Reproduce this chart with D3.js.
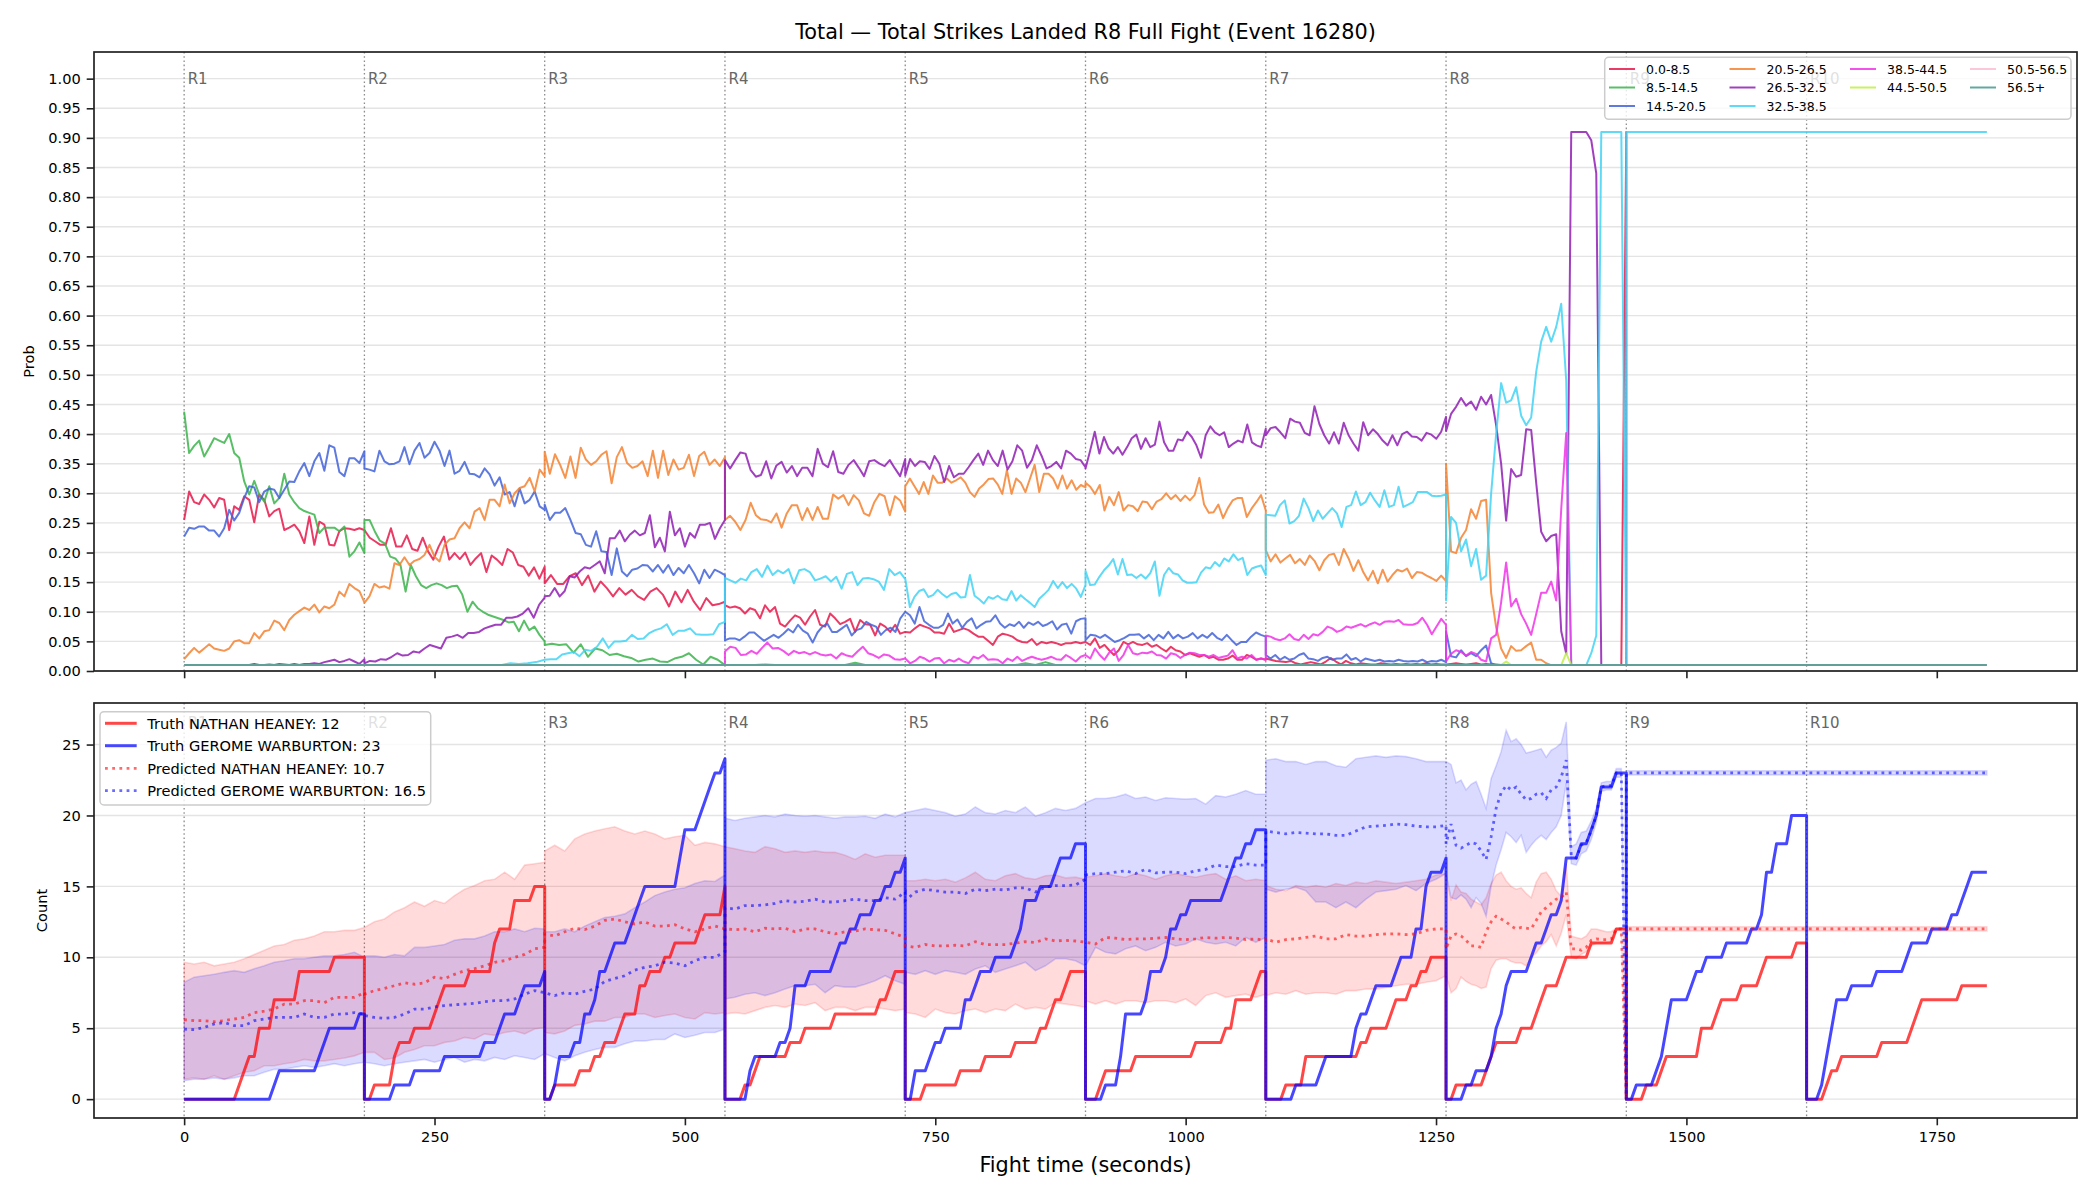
<!DOCTYPE html>
<html><head><meta charset="utf-8">
<script src="https://cdn.jsdelivr.net/npm/d3@7"></script>
<style>body{margin:0;background:#fff}svg text{font-family:"DejaVu Sans",sans-serif}</style>
</head><body><svg id="chart" width="2100" height="1200"></svg>
<script>
// ---------------- DATA ----------------
const roundStarts = [0,180,360,540,720,900,1080,1260,1440,1620];
const roundLabels = ["R1","R2","R3","R4","R5","R6","R7","R8","R9","R10"];
const xTicks = [0,250,500,750,1000,1250,1500,1750];
const probTicks = [0,0.05,0.1,0.15,0.2,0.25,0.3,0.35,0.4,0.45,0.5,0.55,0.6,0.65,0.7,0.75,0.8,0.85,0.9,0.95,1.0];
const countTicks = [0,5,10,15,20,25];
const binLabels = ["0.0-8.5","8.5-14.5","14.5-20.5","20.5-26.5","26.5-32.5","32.5-38.5","38.5-44.5","44.5-50.5","50.5-56.5","56.5+"];
const binColors = ["#e6194b","#3cb44b","#4363d8","#f58231","#911eb4","#42d4f4","#f032e6","#bfef45","#fabed4","#469990"];

// probability per bin; one array per round, values evenly spaced over the round
const prob_0_8 = [
[.255,.303,.285,.282,.298,.289,.276,.292,.289,.238,.278,.272,.295,.289,.251,.298,.289,.261,.27,.274,.238,.242,.247,.236,.216,.261,.213,.252,.247,.213,.212,.236,.241,.24,.238,.241,.238],
[.238,.225,.219,.213,.213,.241,.21,.21,.229,.206,.203,.225,.202,.188,.21,.227,.188,.199,.189,.2,.179,.19,.199,.167,.195,.188,.179,.206,.2,.179,.176,.161,.175,.156,.176],
[.148,.162,.147,.147,.16,.165,.145,.161,.134,.151,.14,.126,.14,.129,.137,.126,.12,.134,.14,.129,.109,.134,.116,.137,.117,.103,.123,.111,.113,.117],
[.111,.107,.109,.106,.097,.106,.103,.089,.111,.10,.108,.08,.075,.085,.094,.09,.078,.092,.103,.078,.075,.097,.089,.079,.083,.088,.066,.086,.079,.078,.06,.08,.075,.066,.078,.063,.066],
[.066,.065,.072,.078,.075,.072,.065,.065,.063,.08,.066,.069,.072,.069,.063,.058,.058,.051,.044,.058,.063,.061,.058,.052,.049,.048,.054,.044,.049,.047,.049,.047,.044,.047,.047,.049,.047,.049],
[.049,.044,.055,.039,.044,.035,.027,.035,.049,.045,.049,.045,.044,.047,.041,.044,.038,.033,.041,.035,.033,.027,.03,.027,.024,.027,.022,.024,.019,.019,.021,.026,.019,.019,.027,.024,.019,.021,.019],
[.021,.019,.017,.016,.015,.017,.013,.011,.013,.015,.013,.011,.016,.022,.016,.011,.017,.013,.011,.013,.012,.011,.011,.013,.012,.011,.012,.011,.012,.011,.012,.011,.013,.011,.012,.011,.011],
[.011,.012,.013,.012,.011,.012,.013,.011,.012,.011,.011,.01,.01,.01,.01,.01,.01,.01,.01,.01,.01,.01,.01,.01,.01,.01,.01,.01,.01,.01,.01,.01,.01,.01,.01,.01,.91],
[.01,.01],[.01,.01]];
const prob_8_14 = [
[.438,.368,.38,.389,.362,.377,.393,.389,.385,.40,.368,.36,.32,.298,.321,.298,.286,.312,.283,.292,.333,.298,.285,.275,.27,.267,.264,.233,.242,.242,.242,.236,.244,.193,.202,.217,.199],
[.255,.255,.236,.22,.215,.193,.19,.179,.134,.179,.16,.145,.14,.145,.148,.145,.14,.143,.144,.129,.10,.117,.106,.1,.095,.092,.089,.086,.082,.083,.067,.085,.069,.075,.061,.05],
[.044,.046,.044,.045,.031,.045,.024,.038,.035,.027,.029,.025,.022,.016,.019,.021,.016,.015,.021,.024,.03,.019,.011,.024,.019,.01],
[.01,.01,.01,.01,.011,.01,.01,.01,.01,.01,.01,.01,.01,.014,.01,.01,.01,.01,.01],
[.01,.01,.01,.01,.01,.01,.01,.01,.01,.011,.01,.01,.013,.01,.015,.01,.01,.01,.01],
[.01,.01],[.01,.01],[.01,.01],[.01,.01],[.01,.01]];
const prob_14_20 = [
[.227,.242,.24,.244,.244,.237,.237,.227,.241,.272,.254,.267,.292,.312,.31,.285,.303,.308,.306,.292,.306,.32,.319,.337,.351,.329,.354,.368,.338,.381,.377,.336,.329,.359,.359,.351,.371],
[.342,.34,.337,.372,.354,.349,.35,.354,.378,.349,.372,.385,.36,.368,.387,.372,.346,.372,.333,.338,.353,.333,.332,.327,.342,.332,.313,.327,.298,.302,.278,.308,.283,.289,.303,.278,.272],
[.281,.255,.267,.267,.275,.255,.233,.231,.213,.21,.236,.202,.201,.162,.207,.168,.16,.171,.173,.179,.178,.168,.179,.166,.179,.162,.174,.165,.179,.165,.148,.171,.157,.171,.167,.162],
[.052,.055,.055,.052,.058,.065,.065,.058,.051,.056,.061,.056,.063,.071,.065,.078,.068,.063,.048,.065,.075,.08,.066,.066,.072,.078,.06,.069,.072,.083,.078,.075,.061,.069,.073,.066,.089,.10],
[.10,.094,.08,.108,.084,.078,.073,.073,.078,.097,.08,.087,.073,.083,.089,.072,.078,.083,.084,.094,.08,.073,.079,.076,.083,.073,.082,.078,.083,.076,.079,.084,.07,.078,.08,.063,.084,.088,.089],
[.052,.061,.06,.056,.061,.055,.049,.052,.056,.061,.061,.062,.055,.061,.052,.061,.055,.066,.055,.061,.055,.058,.064,.055,.061,.056,.064,.056,.052,.061,.052,.044,.049,.049,.058,.065,.061,.058],
[.027,.021,.027,.019,.024,.019,.021,.027,.03,.021,.02,.017,.022,.024,.019,.021,.021,.028,.019,.022,.016,.021,.019,.017,.019,.016,.017,.016,.019,.017,.016,.017,.016,.019,.015,.017,.016,.019,.015],
[.067,.025,.023,.035,.025,.03,.025,.035,.043,.013,.01,.01,.01,.01,.01,.01,.01,.01,.01,.01,.01,.01,.01,.01,.01,.01,.01,.01,.01,.01,.01,.01,.01,.01,.01,.01,.01],
[.01,.01],[.01,.01]];
const prob_20_26 = [
[.02,.03,.039,.031,.038,.045,.038,.036,.034,.038,.05,.052,.047,.047,.064,.055,.067,.069,.085,.081,.069,.086,.095,.101,.107,.103,.112,.099,.109,.106,.112,.134,.126,.147,.14,.135,.116],
[.115,.126,.147,.141,.143,.139,.182,.179,.192,.179,.186,.189,.196,.213,.193,.185,.213,.222,.224,.241,.251,.241,.269,.275,.255,.289,.289,.278,.315,.283,.30,.309,.312,.326,.303,.34,.329],
[.37,.333,.366,.348,.326,.362,.326,.377,.357,.348,.354,.365,.371,.317,.361,.378,.351,.343,.346,.354,.329,.372,.326,.372,.331,.357,.34,.343,.365,.329,.363,.37,.348,.357,.346,.361],
[.255,.262,.252,.238,.255,.284,.263,.256,.255,.251,.266,.242,.266,.28,.28,.255,.275,.255,.277,.257,.257,.298,.291,.297,.28,.297,.288,.266,.262,.285,.299,.295,.263,.295,.288,.269],
[.312,.325,.312,.299,.319,.299,.33,.318,.318,.325,.318,.322,.327,.318,.302,.294,.308,.315,.324,.325,.315,.299,.339,.299,.325,.318,.302,.325,.348,.302,.333,.333,.325,.308,.33,.308,.322,.306,.314,.31],
[.318,.311,.299,.314,.271,.294,.28,.302,.271,.28,.278,.27,.286,.285,.273,.286,.29,.3,.29,.297,.287,.296,.288,.297,.326,.281,.267,.268,.281,.258,.275,.288,.292,.292,.26,.274,.285,.297,.271],
[.204,.185,.197,.183,.19,.196,.182,.189,.179,.195,.186,.17,.187,.196,.198,.179,.206,.19,.169,.187,.167,.153,.169,.148,.171,.151,.162,.171,.168,.173,.157,.167,.166,.161,.157,.152,.161,.152],
[.35,.202,.199,.225,.238,.273,.257,.287,.289,.132,.074,.038,.022,.042,.034,.035,.042,.048,.019,.019,.013,.01,.01,.01,.01,.01,.01,.01,.01,.01,.01,.01,.01,.01,.01,.01,.01],
[.01,.01],[.01,.01]];
const prob_26_32 = [
[.01,.01,.01,.01,.01,.01,.01,.01,.01,.01,.01,.01,.01,.01,.012,.01,.01,.011,.01,.012,.011,.01,.012,.01,.012,.012,.013,.012,.015,.017,.019,.015,.017,.02,.016,.012,.02],
[.013,.017,.016,.02,.019,.024,.03,.026,.027,.033,.031,.038,.044,.041,.038,.056,.058,.061,.056,.064,.064,.066,.072,.075,.078,.078,.09,.09,.092,.097,.106,.09,.112,.124],
[.126,.127,.14,.126,.135,.16,.158,.168,.175,.173,.179,.185,.165,.224,.224,.237,.219,.23,.237,.229,.233,.263,.209,.225,.202,.269,.229,.241,.21,.233,.225,.247,.247,.25,.223,.241,.255],
[.356,.342,.356,.369,.367,.339,.328,.331,.354,.325,.347,.353,.335,.346,.329,.343,.343,.329,.375,.35,.344,.371,.336,.333,.348,.356,.343,.329,.354,.356,.35,.346,.356,.342,.329,.358],
[.33,.358,.346,.354,.353,.341,.363,.35,.319,.346,.327,.333,.333,.344,.356,.367,.348,.372,.356,.346,.372,.34,.354,.381,.372,.343,.356,.381,.363,.342,.346,.353,.342,.372,.367,.358,.356,.344],
[.342,.372,.404,.367,.395,.376,.367,.378,.365,.378,.393,.399,.375,.393,.378,.382,.421,.386,.372,.372,.391,.389,.404,.395,.381,.36,.398,.413,.403,.398,.403,.378,.384,.389,.386,.416,.386,.381,.378,.409],
[.398,.41,.412,.403,.393,.426,.421,.419,.402,.398,.447,.417,.398,.384,.403,.384,.419,.398,.384,.372,.42,.398,.408,.4,.389,.381,.398,.381,.4,.404,.396,.395,.389,.402,.399,.392,.404,.429],
[.405,.434,.446,.461,.448,.455,.441,.463,.45,.466,.415,.35,.254,.341,.328,.331,.408,.407,.318,.235,.219,.228,.231,.067,.029,.91,.91,.91,.91,.896,.84,.01,.01,.01,.01,.01,.01],
[.01,.01],[.01,.01]];
const prob_32_38 = [
[.01,.01],
[.01,.01,.01,.01,.01,.01,.01,.01,.01,.01,.01,.01,.01,.01,.01,.01,.01,.013,.012,.013,.015,.019],
[.019,.02,.02,.028,.03,.032,.025,.036,.034,.041,.055,.039,.05,.05,.051,.061,.054,.055,.064,.069,.072,.079,.061,.068,.068,.072,.062,.061,.061,.062,.079,.083],
[.157,.153,.149,.156,.153,.167,.172,.159,.178,.162,.17,.165,.172,.148,.17,.172,.167,.153,.156,.16,.151,.159,.139,.164,.167,.145,.156,.157,.155,.151,.137,.172,.162,.167,.155],
[.156,.108,.125,.135,.138,.125,.128,.137,.13,.124,.13,.132,.124,.125,.162,.127,.121,.114,.125,.122,.127,.121,.12,.135,.119,.128,.121,.115,.108,.122,.129,.137,.152,.14,.15,.14,.147,.139,.125,.145],
[.169,.145,.146,.159,.17,.178,.189,.163,.189,.162,.163,.157,.163,.156,.165,.185,.127,.162,.174,.165,.163,.153,.149,.149,.15,.166,.175,.173,.184,.177,.19,.185,.197,.187,.191,.162,.173,.176,.178,.162],
[.264,.263,.262,.28,.288,.249,.253,.262,.291,.275,.253,.271,.257,.266,.275,.266,.243,.277,.28,.303,.28,.285,.301,.288,.277,.305,.277,.28,.311,.277,.281,.285,.302,.302,.302,.296,.295,.296,.298],
[.119,.26,.25,.202,.222,.177,.206,.154,.161,.299,.40,.486,.453,.457,.479,.431,.415,.428,.505,.556,.581,.556,.581,.62,.49,.01,.01,.01,.01,.03,.06,.91,.91,.91,.91,.91,.01],
[.91,.91],[.91,.91]];
const prob_38_44 = [
[.01,.01],[.01,.01],[.01,.01],
[.033,.041,.039,.027,.028,.034,.029,.039,.048,.038,.039,.034,.027,.034,.03,.032,.028,.032,.028,.026,.028,.021,.03,.026,.024,.033,.041,.03,.027,.022,.028,.026,.02,.019,.021],
[.021,.013,.017,.024,.021,.016,.021,.022,.013,.019,.016,.021,.016,.013,.024,.021,.027,.019,.02,.019,.013,.021,.017,.024,.017,.021,.024,.021,.019,.021,.024,.02,.019,.027,.022,.016,.024,.027],
[.027,.021,.038,.027,.019,.031,.038,.017,.027,.044,.03,.028,.031,.03,.033,.027,.026,.021,.03,.028,.022,.027,.031,.03,.027,.027,.024,.027,.022,.024,.026,.035,.021,.024,.021,.027,.019,.021,.019],
[.06,.058,.054,.052,.055,.062,.054,.052,.061,.054,.062,.06,.066,.075,.072,.066,.069,.075,.073,.076,.079,.075,.079,.082,.078,.083,.084,.083,.086,.079,.078,.078,.081,.09,.078,.062,.075,.088,.078],
[.016,.029,.035,.032,.026,.032,.029,.019,.016,.055,.061,.116,.183,.109,.122,.096,.08,.061,.096,.132,.132,.151,.119,.273,.402,.01,.01,.01,.01,.01,.01,.01,.01,.01,.01,.01,.01],
[.01,.01],[.01,.01]];
const prob_44_50 = [
[.01,.01],[.01,.01],[.01,.01],[.01,.01],[.01,.01],[.01,.01],[.01,.01],
[.01,.01,.01,.01,.01,.01,.01,.01,.01,.01,.01,.01,.016,.01,.01,.01,.01,.01,.01,.01,.01,.01,.01,.01,.03,.01,.01,.01,.01,.01,.01,.01,.01,.01,.01,.01,.01],
[.01,.01],[.01,.01]];
const prob_50_56 = [[.01,.01],[.01,.01],[.01,.01],[.01,.01],[.01,.01],[.01,.01],[.01,.01],[.01,.01],[.01,.01],[.01,.01]];
const prob_56p = [[.01,.01],[.01,.01],[.01,.01],[.01,.01],[.01,.01],[.01,.01],[.01,.01],[.01,.01],[.01,.01],[.01,.01]];
const probSeries = [prob_0_8,prob_8_14,prob_14_20,prob_20_26,prob_26_32,prob_32_38,prob_38_44,prob_44_50,prob_50_56,prob_56p];

// truth counts per round (5 s samples)
const truthHeaney = [
[0,0,0,0,0,0,0,0,0,0,0,1,2,3,3,5,5,5,7,7,7,7,7,9,9,9,9,9,9,9,10,10,10,10,10,10,10],
[0,0,1,1,1,1,3,4,4,4,5,5,5,5,6,7,8,8,8,8,8,9,9,9,9,9,11,12,12,12,14,14,14,14,15,15,15],
[0,0,1,1,1,1,1,2,2,2,3,3,4,4,4,5,6,6,6,8,8,9,9,9,10,10,11,11,11,11,11,12,13,13,13,13,15],
[0,0,0,0,1,1,2,3,3,3,3,3,3,4,4,4,5,5,5,5,5,5,6,6,6,6,6,6,6,6,6,7,7,8,9,9,9],
[0,0,0,0,1,1,1,1,1,1,1,2,2,2,2,2,3,3,3,3,3,3,4,4,4,4,4,5,5,6,7,7,8,9,9,9,9],
[0,0,0,1,2,2,2,2,2,2,3,3,3,3,3,3,3,3,3,3,3,3,4,4,4,4,4,4,5,5,7,7,7,7,8,9,9],
[0,0,0,0,1,1,1,1,3,3,3,3,3,3,3,3,3,3,3,4,4,5,5,5,5,6,7,7,7,8,8,9,9,10,10,10,10],
[0,0,1,1,1,1,1,1,2,3,4,4,4,4,4,5,5,5,6,7,8,8,8,9,10,10,10,10,10,11,11,11,11,11,12,12,12],
[0,0,0,0,1,1,1,2,3,3,3,3,3,3,3,5,5,5,6,7,7,7,7,8,8,8,8,9,10,10,10,10,10,10,11,11,11],
[0,0,0,0,1,2,2,3,3,3,3,3,3,3,3,4,4,4,4,4,4,5,6,7,7,7,7,7,7,7,7,8,8,8,8,8,8]];
const truthWarburton = [
[0,0,0,0,0,0,0,0,0,0,0,0,0,0,0,0,0,0,1,2,2,2,2,2,2,2,2,3,4,5,5,5,5,5,5,6,6],
[0,0,0,0,0,0,1,1,1,1,2,2,2,2,2,2,3,3,3,3,3,3,3,3,4,4,4,5,6,6,6,7,8,8,8,8,9],
[0,0,1,3,3,3,4,4,6,6,7,9,9,10,11,11,11,12,13,14,15,15,15,15,15,15,15,17,19,19,19,20,21,22,23,23,24],
[0,0,0,0,0,2,3,3,3,3,3,4,4,5,8,8,8,9,9,9,9,9,10,11,11,12,12,13,13,13,14,14,15,15,16,16,17],
[0,0,2,2,2,3,4,4,5,5,5,5,7,7,8,9,9,9,10,10,10,10,11,12,14,14,14,15,15,15,16,17,17,17,18,18,18],
[0,0,0,0,1,1,1,3,6,6,6,6,7,9,9,9,10,12,12,13,13,14,14,14,14,14,14,14,15,16,17,17,18,18,19,19,19],
[0,0,0,0,0,0,1,1,1,1,1,2,3,3,3,3,3,3,5,6,6,7,8,8,8,8,9,10,10,10,12,12,15,16,16,16,17],
[0,0,0,0,1,1,2,2,2,3,5,6,8,9,9,9,9,10,11,11,12,13,13,14,17,17,17,18,18,19,20,22,22,22,23,23,23],
[0,0,1,1,1,1,2,3,5,7,7,7,7,8,9,9,10,10,10,10,11,11,11,11,11,12,12,13,16,16,18,18,18,20,20,20,20],
[0,0,0,1,3,5,7,7,7,8,8,8,8,8,9,9,9,9,9,9,10,11,11,11,11,12,12,12,12,13,13,14,15,16,16,16,16]];

// predicted counts and their bands, per round
const predHeaney = [
[5.6,5.53,5.53,5.46,5.53,5.65,5.76,6.1,6.2,6.35,6.7,6.7,6.94,6.94,6.8,7.18,7.18,7.18,7.5],
[7.4,7.65,7.8,8.0,8.2,8.1,8.2,8.6,8.5,8.8,9.06,9.2,9.4,9.65,9.76,10.0,10.2,10.6,10.7],
[11.65,11.5,11.8,12.05,11.95,12.2,12.6,12.7,12.5,12.35,12.5,12.2,12.2,12.3,12.0,11.8,12.0,12.2,12.0],
[12.0,11.95,12.0,11.8,12.05,12.0,12.05,11.8,12.0,12.0,11.8,11.65,11.8,11.85,12.0,11.95,11.9,11.65,11.4],
[10.8,10.7,10.9,10.8,10.8,10.85,10.8,11.1,10.9,10.9,10.9,11.0,11.1,11.05,11.3,11.15,11.2,11.15,11.06],
[11.06,10.94,11.4,11.35,11.25,11.3,11.3,11.35,11.4,11.3,11.25,11.3,11.4,11.35,11.4,11.35,11.25,11.3,11.2],
[11.3,11.06,11.25,11.3,11.4,11.5,11.3,11.3,11.6,11.5,11.5,11.6,11.65,11.65,11.6,11.65,11.9,12.0,12.0],
[10.6,11.5,11.65,11.5,11.2,10.8,10.8,10.7,11.8,12.5,12.9,12.7,12.5,12.2,12.0,12.1,12.05,12.0,12.6,13.2,13.5,13.8,14.1,14.2,14.6,10.6,10.6,10.5,10.7,11.2,11.3,11.25,11.25,11.3,12.0,12.0,0],
[12,12],[12,12]];
const lowHeaney = [
[1.4,1.5,1.4,1.65,1.4,1.65,1.9,2.0,2.35,2.35,2.5,2.6,2.8,2.7,2.7,2.8,2.9,3.05,3.3],
[3.3,3.3,2.8,2.9,3.3,3.5,3.76,3.76,4.0,4.1,4.35,4.24,4.6,4.5,4.7,4.8,4.6,4.94,5.06],
[4.7,4.6,4.8,5.2,5.3,5.5,5.5,5.76,5.76,6.0,6.0,5.76,5.9,6.0,5.76,5.65,6.1,6.0,6.1],
[6.0,6.1,6.0,6.24,6.47,6.6,6.47,6.7,6.6,6.8,6.24,6.47,6.47,6.24,6.47,6.47,6.35,6.24,6.35],
[6.1,6.0,5.76,6.35,6.1,6.0,6.24,6.35,6.1,6.35,6.24,6.7,6.35,6.47,6.35,6.8,6.7,6.6,6.47],
[6.94,6.7,6.94,6.7,6.94,6.94,6.8,6.94,6.94,6.8,7.06,6.6,7.3,7.5,7.18,7.3,7.4,7.18,7.4],
[7.3,7.5,7.4,7.65,7.4,7.5,7.5,7.4,7.65,7.65,7.76,7.76,7.88,8.0,8.1,8.1,8.24,8.35,8.7],
[8.7,7.5,7.8,8.6,8.3,8.1,8.0,7.8,7.9,9.2,9.8,9.9,9.9,9.7,9.6,9.6,9.4,10.0,10.3,10.8,11.1,11.6,10.8,11.7,13.0,10.0,9.9,10.2,10.4,10.8,11.0,11.0,11.0,11.1,11.9,11.9,0],
[11.85,11.85],[11.85,11.85]];
const highHeaney = [
[9.65,9.53,9.65,9.4,9.53,9.65,9.9,10.2,10.5,10.8,10.9,11.2,11.3,11.5,11.8,11.8,11.9,11.9,12.1],
[12.1,12.5,12.7,13.2,13.5,13.9,13.6,14.0,13.8,14.35,14.8,15.06,15.4,15.5,16.0,15.5,16.5,16.6,16.7],
[17.5,17.9,17.5,18.35,18.7,18.9,19.06,19.2,18.9,18.7,18.9,18.7,18.35,18.5,18.6,17.9,18.1,18.0,17.8],
[17.8,17.65,17.5,17.4,17.8,17.65,17.4,17.5,17.4,17.5,17.4,17.4,17.2,16.9,17.3,17.06,17.2,17.2,17.2],
[15.4,15.4,15.5,15.4,15.5,15.3,15.6,16.0,15.5,15.4,15.75,15.9,15.6,15.5,15.75,15.8,15.6,15.65,15.5],
[15.65,15.75,15.9,15.75,15.65,15.9,15.75,15.5,15.75,15.9,15.75,15.65,15.8,15.9,15.5,15.75,15.4,15.5,15.4],
[15.06,14.8,14.7,15.06,14.94,15.06,14.94,15.2,15.06,15.3,15.2,15.4,15.3,15.2,15.3,15.4,15.5,15.8,15.9],
[15.8,14.0,15.1,14.6,14.5,14.1,13.9,13.7,14.2,15.2,15.8,16.0,15.4,15.0,14.8,14.9,14.5,14.2,15.3,15.9,16.0,15.5,14.7,14.3,16.6,11.5,11.4,11.3,11.5,12.0,12.0,11.9,11.8,11.8,12.05,12.05,0],
[12.15,12.15],[12.15,12.15]];
const predWarburton = [
[4.94,4.9,5.06,5.3,5.4,5.18,5.18,5.53,5.65,5.76,5.76,5.76,6.0,5.76,5.76,6.0,6.0,6.1,6.0],
[5.9,5.76,5.7,5.76,6.0,6.35,6.35,6.5,6.6,6.65,6.7,6.75,6.87,6.94,6.94,7.06,7.4,7.65,7.5],
[7.5,7.3,7.5,7.4,7.6,7.76,8.3,8.5,8.7,9.1,9.3,9.4,9.65,9.6,9.4,9.76,10.0,10.0,10.4],
[13.5,13.4,13.65,13.65,13.7,13.8,14.0,13.9,13.95,14.1,13.9,13.9,14.0,14.1,14.0,14.0,14.2,14.1,14.6],
[14.0,14.6,14.8,14.7,14.6,14.6,14.5,14.8,14.7,14.8,14.75,14.9,14.9,14.6,14.95,15.06,15.06,15.1,15.5],
[15.8,15.9,15.9,16.0,16.1,15.9,16.2,15.95,16.0,16.0,15.9,16.1,16.2,16.5,16.4,16.4,16.6,16.5,16.5],
[18.9,18.8,18.7,18.8,18.75,18.7,18.7,18.6,18.6,18.9,19.2,19.25,19.3,19.4,19.35,19.25,19.2,19.2,19.3],
[18.0,19.4,17.9,17.7,17.9,18.1,18.0,17.5,16.9,18.5,20.5,21.6,22.1,21.8,22.0,21.5,21.1,21.2,21.5,21.6,21.2,21.8,22.0,22.7,23.9,17.2,17.0,17.9,18.1,18.9,20.0,22.0,22.1,22.1,23.0,23.0,0],
[23,23],[23,23]];
const lowWarburton = [
[1.3,1.4,1.4,1.5,1.4,1.5,1.65,1.65,1.9,2.1,2.1,2.24,2.35,2.24,2.35,2.5,2.35,2.5,2.6],
[2.6,2.5,2.35,2.5,2.6,2.7,2.8,2.6,2.8,2.94,2.6,2.8,2.7,2.94,2.8,3.06,2.94,2.8,3.2],
[3.2,2.94,2.7,3.06,3.3,3.5,3.65,3.65,3.9,4.1,4.1,4.2,4.2,4.6,4.35,4.5,4.7,4.7,4.94],
[7.06,7.18,7.4,7.5,7.3,7.5,7.76,8.0,8.0,8.1,7.5,8.0,7.9,7.9,8.1,8.35,8.7,8.35,8.1],
[8.94,8.8,9.06,8.8,9.06,8.94,8.8,9.18,9.4,8.94,9.18,9.4,9.65,9.06,9.4,9.9,9.9,9.76,9.4],
[9.4,10.7,10.35,10.24,10.6,10.8,10.47,10.7,11.06,10.8,10.94,11.3,11.06,10.94,11.06,10.8,11.4,11.06,11.4],
[14.8,14.6,14.8,14.94,14.7,13.9,13.9,13.5,13.9,13.5,14.1,14.6,14.7,14.8,15.06,14.7,15.2,15.5,15.9],
[15.9,14.2,14.1,14.4,14.1,13.5,14.2,13.8,12.9,15.0,16.5,17.6,18.8,18.5,18.1,18.6,17.4,17.9,18.3,18.6,18.3,18.8,19.2,20.0,22.3,16.6,16.5,17.3,17.5,18.3,19.5,21.7,21.8,21.8,22.7,22.7,0],
[22.85,22.85],[22.85,22.85]];
const highWarburton = [
[8.24,8.6,8.7,8.8,8.94,9.06,8.94,9.2,9.4,9.65,9.76,9.9,9.9,10.0,10.1,10.1,10.2,10.35,10.0],
[10.1,10.1,10.0,10.2,10.1,10.7,10.7,10.8,10.9,11.2,11.3,11.3,11.5,11.8,11.8,12.0,11.8,12.05,12.0],
[11.8,11.8,12.0,11.8,12.2,12.5,12.8,12.9,13.06,13.5,13.9,14.35,14.6,14.8,14.9,15.2,15.4,15.35,15.8],
[19.8,19.65,19.8,19.9,20.0,19.9,20.1,20.0,19.95,20.0,19.9,19.8,19.9,19.9,19.95,19.8,20.1,19.9,20.2],
[20.2,20.35,20.5,20.35,20.2,19.95,20.1,20.6,20.2,20.1,20.35,20.2,20.6,19.95,20.2,20.5,20.35,20.5,20.9],
[20.9,21.2,21.2,21.3,21.5,21.2,21.3,21.06,21.25,21.2,21.15,21.2,20.8,21.4,21.3,21.5,21.76,21.5,21.5],
[23.9,24.0,23.8,23.8,23.6,23.8,23.8,23.5,23.4,24.0,24.1,24.2,24.1,24.2,24.15,24.0,23.8,23.8,23.8],
[23.8,23.6,22.3,22.5,21.8,22.2,22.4,21.5,20.5,22.6,23.5,24.5,26.0,25.2,25.4,25.0,24.4,24.5,24.6,24.7,24.1,24.6,24.8,25.1,26.6,17.8,18.0,18.8,18.9,19.6,20.5,22.3,22.4,22.4,23.3,23.3,0],
[23.15,23.15],[23.15,23.15]];

const titleText = "Total \u2014 Total Strikes Landed R8 Full Fight (Event 16280)";
const bottomLegend = [
 {label:"Truth NATHAN HEANEY: 12", color:"#ff0000", dash:null},
 {label:"Truth GEROME WARBURTON: 23", color:"#0000ff", dash:null},
 {label:"Predicted NATHAN HEANEY: 10.7", color:"#ff0000", dash:"dot"},
 {label:"Predicted GEROME WARBURTON: 16.5", color:"#0000ff", dash:"dot"}];

// ---------------- LAYOUT ----------------
const ROUND_LEN = 180;
const L=94, R=2077, TT=52, TB=671, BT=703, BB=1118;
const FONT = "DejaVu Sans";
const svg = d3.select("#chart");
const x = d3.scaleLinear().domain([-90,1890]).range([L,R]);
const yTop = d3.scaleLinear().domain([0,1.045]).range([TB,TT]);
const yBot = d3.scaleLinear().domain([-1.33,27.93]).range([BB,BT]);

function expand(rounds){
  const pts=[];
  rounds.forEach((vals,r)=>{
    const t0=roundStarts[r], n=vals.length;
    vals.forEach((v,k)=>pts.push({t:t0+k*ROUND_LEN/(n-1), v:v}));
  });
  return pts;
}
function expandBand(lo,hi){
  const a=expand(lo), b=expand(hi);
  return a.map((d,i)=>({t:d.t, lo:d.v, hi:b[i].v}));
}

const defs = svg.append("defs");
defs.append("clipPath").attr("id","clipTop").append("rect").attr("x",L).attr("y",TT).attr("width",R-L).attr("height",TB-TT);
defs.append("clipPath").attr("id","clipBot").append("rect").attr("x",L).attr("y",BT).attr("width",R-L).attr("height",BB-BT);

// title
svg.append("text").attr("x",(L+R)/2).attr("y",38.5).attr("text-anchor","middle")
  .attr("font-size",20.8).attr("font-family",FONT).attr("fill","#000").text(titleText);

// grids
function drawGrid(scale, vals){
  svg.append("g").selectAll("line").data(vals).join("line")
    .attr("x1",L).attr("x2",R).attr("y1",d=>scale(d)).attr("y2",d=>scale(d))
    .attr("stroke","#e4e4e4").attr("stroke-width",1.4);
}
drawGrid(yTop, probTicks);
drawGrid(yBot, countTicks);

// round lines + labels
function drawRounds(y0,y1,labelY){
  const g=svg.append("g");
  g.selectAll("line").data(roundStarts).join("line")
    .attr("x1",d=>x(d)).attr("x2",d=>x(d)).attr("y1",y0).attr("y2",y1)
    .attr("stroke","#808080").attr("stroke-width",1.3).attr("stroke-dasharray","1.6,2.6").attr("opacity",0.9);
  g.selectAll("text").data(roundStarts).join("text")
    .attr("x",d=>x(d)+3.5).attr("y",labelY).attr("dominant-baseline","central")
    .attr("font-size",15).attr("font-family",FONT).attr("fill","#666")
    .text((d,i)=>roundLabels[i]);
}
drawRounds(TT,TB,yTop(1.0));
drawRounds(BT,BB,yBot(26.5));

// top lines
const lineTop = d3.line().x(d=>x(d.t)).y(d=>yTop(d.v));
const gTop = svg.append("g").attr("clip-path","url(#clipTop)");
probSeries.forEach((s,i)=>{
  gTop.append("path").attr("d",lineTop(expand(s))).attr("fill","none")
    .attr("stroke",binColors[i]).attr("stroke-opacity",0.85).attr("stroke-width",2.0)
    .attr("stroke-linejoin","round");
});

// bottom
const gBot = svg.append("g").attr("clip-path","url(#clipBot)");
const area = d3.area().x(d=>x(d.t)).y0(d=>yBot(d.lo)).y1(d=>yBot(d.hi));
const lineBot = d3.line().x(d=>x(d.t)).y(d=>yBot(d.v));
[[lowHeaney,highHeaney,"#ff0000"],[lowWarburton,highWarburton,"#0000ff"]].forEach(([lo,hi,c])=>{
  gBot.append("path").attr("d",area(expandBand(lo,hi))).attr("fill",c).attr("fill-opacity",0.14)
    .attr("stroke",c).attr("stroke-opacity",0.14).attr("stroke-width",1.6);
});
[[truthHeaney,"#ff0000"],[truthWarburton,"#0000ff"]].forEach(([s,c])=>{
  gBot.append("path").attr("d",lineBot(expand(s))).attr("fill","none").attr("stroke",c)
    .attr("stroke-opacity",0.72).attr("stroke-width",3.0).attr("stroke-linejoin","round");
});
[[predHeaney,"#ff0000"],[predWarburton,"#0000ff"]].forEach(([s,c])=>{
  gBot.append("path").attr("d",lineBot(expand(s))).attr("fill","none").attr("stroke",c)
    .attr("stroke-opacity",0.58).attr("stroke-width",2.8).attr("stroke-dasharray","2.8,4.4");
});

// frames
[[TT,TB],[BT,BB]].forEach(([a,b])=>{
  svg.append("rect").attr("x",L).attr("y",a).attr("width",R-L).attr("height",b-a)
    .attr("fill","none").attr("stroke","#222").attr("stroke-width",1.7);
});

// axes
function styleAxis(g){
  g.select(".domain").remove();
  g.selectAll(".tick line").attr("stroke","#222").attr("stroke-width",1.6);
  g.selectAll(".tick text").attr("font-size",14.6).attr("font-family",FONT).attr("fill","#000");
}
svg.append("g").attr("transform",`translate(0,${TB})`)
  .call(d3.axisBottom(x).tickValues(xTicks).tickFormat("").tickSize(7.3).tickSizeOuter(0)).call(styleAxis);
svg.append("g").attr("transform",`translate(0,${BB})`)
  .call(d3.axisBottom(x).tickValues(xTicks).tickFormat(d3.format("d")).tickSize(7.3).tickPadding(6).tickSizeOuter(0)).call(styleAxis);
svg.append("g").attr("transform",`translate(${L},0)`)
  .call(d3.axisLeft(yTop).tickValues(probTicks).tickFormat(d3.format(".2f")).tickSize(7.3).tickPadding(6).tickSizeOuter(0)).call(styleAxis);
svg.append("g").attr("transform",`translate(${L},0)`)
  .call(d3.axisLeft(yBot).tickValues(countTicks).tickFormat(d3.format("d")).tickSize(7.3).tickPadding(6).tickSizeOuter(0)).call(styleAxis);

// axis labels
svg.append("text").attr("transform",`translate(28,${(TT+TB)/2}) rotate(-90)`).attr("text-anchor","middle")
  .attr("dominant-baseline","central").attr("font-size",14.6).attr("font-family",FONT).text("Prob");
svg.append("text").attr("transform",`translate(41,${(BT+BB)/2}) rotate(-90)`).attr("text-anchor","middle")
  .attr("dominant-baseline","central").attr("font-size",14.6).attr("font-family",FONT).text("Count");
svg.append("text").attr("x",(L+R)/2).attr("y",1172).attr("text-anchor","middle")
  .attr("font-size",20.8).attr("font-family",FONT).text("Fight time (seconds)");

// top legend
const lt = svg.append("g");
lt.append("rect").attr("x",1604.7).attr("y",57.3).attr("width",466.3).attr("height",62).attr("rx",4)
  .attr("fill","#fff").attr("fill-opacity",0.8).attr("stroke","#cccccc").attr("stroke-width",1.5);
const colOf=[0,0,0,1,1,1,2,2,3,3], rowOf=[0,1,2,0,1,2,0,1,0,1];
const colX=[1609,1729.5,1850,1970], rowY=[69,87.5,106];
binLabels.forEach((lab,i)=>{
  const cx=colX[colOf[i]], cy=rowY[rowOf[i]];
  lt.append("line").attr("x1",cx).attr("x2",cx+26).attr("y1",cy).attr("y2",cy)
    .attr("stroke",binColors[i]).attr("stroke-opacity",0.85).attr("stroke-width",2.0);
  lt.append("text").attr("x",cx+37).attr("y",cy).attr("dominant-baseline","central")
    .attr("font-size",12.5).attr("font-family",FONT).attr("fill","#000").text(lab);
});

// bottom legend
const lb = svg.append("g");
lb.append("rect").attr("x",100).attr("y",711.7).attr("width",330.7).attr("height",93.3).attr("rx",4)
  .attr("fill","#fff").attr("fill-opacity",0.8).attr("stroke","#cccccc").attr("stroke-width",1.5);
const lbRows=[723.3,745.7,768.3,790.7];
bottomLegend.forEach((e,i)=>{
  const cy=lbRows[i];
  const ln=lb.append("line").attr("x1",105).attr("x2",136.7).attr("y1",cy).attr("y2",cy).attr("stroke",e.color);
  if(e.dash){ ln.attr("stroke-opacity",0.58).attr("stroke-width",2.8).attr("stroke-dasharray","2.8,4.4"); }
  else { ln.attr("stroke-opacity",0.72).attr("stroke-width",3.0); }
  lb.append("text").attr("x",147.3).attr("y",cy).attr("dominant-baseline","central")
    .attr("font-size",14.6).attr("font-family",FONT).attr("fill","#000").text(e.label);
});
</script>
</body></html>
